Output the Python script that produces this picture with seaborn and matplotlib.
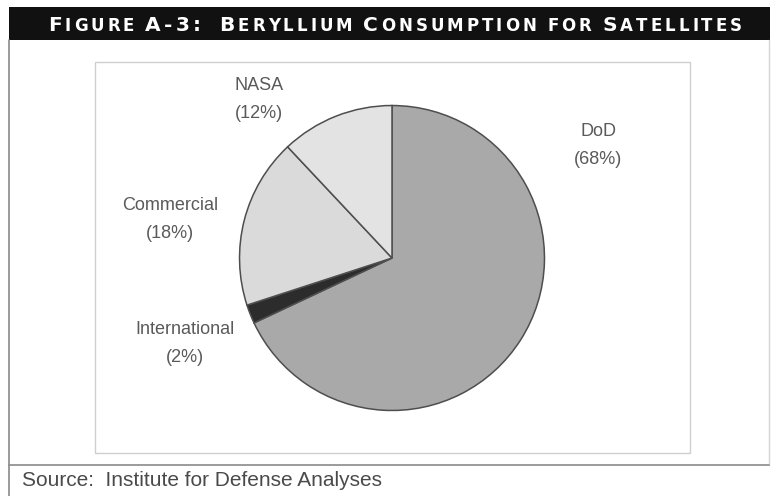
import matplotlib
matplotlib.use("Agg")
import matplotlib.pyplot as plt
from matplotlib.patches import Rectangle
from matplotlib.lines import Line2D
import seaborn as sns

# Beryllium consumption shares for satellites, by customer
categories = ["DoD", "International", "Commercial", "NASA"]
shares = [68, 2, 18, 12]
slice_colors = ["#a9a9a9", "#2c2c2c", "#dadada", "#e3e3e3"]

title_text = "Figure A-3:  Beryllium Consumption for Satellites"
source_text = "Source:  Institute for Defense Analyses"

sns.set_theme(style="white")
plt.rcParams["font.family"] = ["Liberation Sans", "DejaVu Sans"]

W, H = 774, 496
fig = plt.figure(figsize=(W / 100, H / 100), dpi=100)
fig.patch.set_facecolor("white")


def px(x, y):
    """Pixel position measured from top-left -> figure fraction."""
    return x / W, 1 - y / H


# outer frame and separators
frame_col = "#8a8a8a"
fig.add_artist(Line2D([9 / W, 9 / W], [0, 1 - 40 / H], color=frame_col, lw=1.2))
fig.add_artist(Line2D([769 / W, 769 / W], [1 - 465 / H, 1 - 40 / H], color="#d6d6d6", lw=1.0))
fig.add_artist(Line2D([9 / W, 769 / W], [1 - 465 / H, 1 - 465 / H], color=frame_col, lw=1.2))

# inner plot box
box_col = "#cfcfcf"
x0, y0 = px(95, 62)
x1, y1 = px(690, 453)
fig.add_artist(Rectangle((x0, y1), x1 - x0, y0 - y1, fill=False, ec=box_col, lw=1.0))

# title bar
bx0, by0 = px(9, 7)
bx1, by1 = px(770, 40)
fig.add_artist(Rectangle((bx0, by1), bx1 - bx0, by0 - by1, color="#111111", lw=0))

# small-caps title laid out piece by piece
BIG, SMALL = 14.5, 12.0
renderer = fig.canvas.get_renderer()
pieces = []
for word_i, word in enumerate(title_text.split(" ")):
    if word_i > 0:
        pieces.append((" ", SMALL))
    if word == "":
        continue
    for ch_i, ch in enumerate(word):
        big = (ch_i == 0 and ch.isupper()) or not ch.isalpha()
        pieces.append((ch.upper(), BIG if big else SMALL))

texts, widths = [], []
for s, size in pieces:
    t = fig.text(0, 0, s, fontsize=size, color="white", fontweight="bold",
                 family="DejaVu Sans", va="baseline", ha="left")
    texts.append(t)
    if s == " ":
        widths.append(size * 0.30 * 100 / 72)
    else:
        widths.append(t.get_window_extent(renderer).width)

start, end = 48, 742
extra = (end - start - sum(widths)) / (len(pieces) - 1)
cur = start
for t, w in zip(texts, widths):
    t.set_position(px(cur, 31))
    cur += w + extra

# pie, centred at (392, 258) px with radius 154 px
cx, cy, r = 392, 258, 154
ax = fig.add_axes([(cx - r) / W, (H - cy - r) / H, 2 * r / W, 2 * r / H])
ax.pie(shares, colors=slice_colors, startangle=90, counterclock=False,
       radius=1.0, wedgeprops=dict(edgecolor="#4e4e4e", linewidth=1.1))
ax.set_xlim(-1.01, 1.01)
ax.set_ylim(-1.01, 1.01)
ax.set_aspect("equal")
ax.axis("off")

# slice labels
label_pos = {
    "DoD": (598, 131),
    "International": (185, 329),
    "Commercial": (170, 205),
    "NASA": (259, 85),
}
for name, val in zip(categories, shares):
    lx, ly = label_pos[name]
    fig.text(*px(lx, ly), name, ha="center", va="center", fontsize=13, color="#5a5a5a")
    fig.text(*px(lx, ly + 28), f"({val}%)", ha="center", va="center", fontsize=13,
             color="#5a5a5a")

# source line
fig.text(*px(22, 481), source_text, ha="left", va="center", fontsize=15, color="#4a4a4a")

fig.savefig("out.png", dpi=100, facecolor="white")
